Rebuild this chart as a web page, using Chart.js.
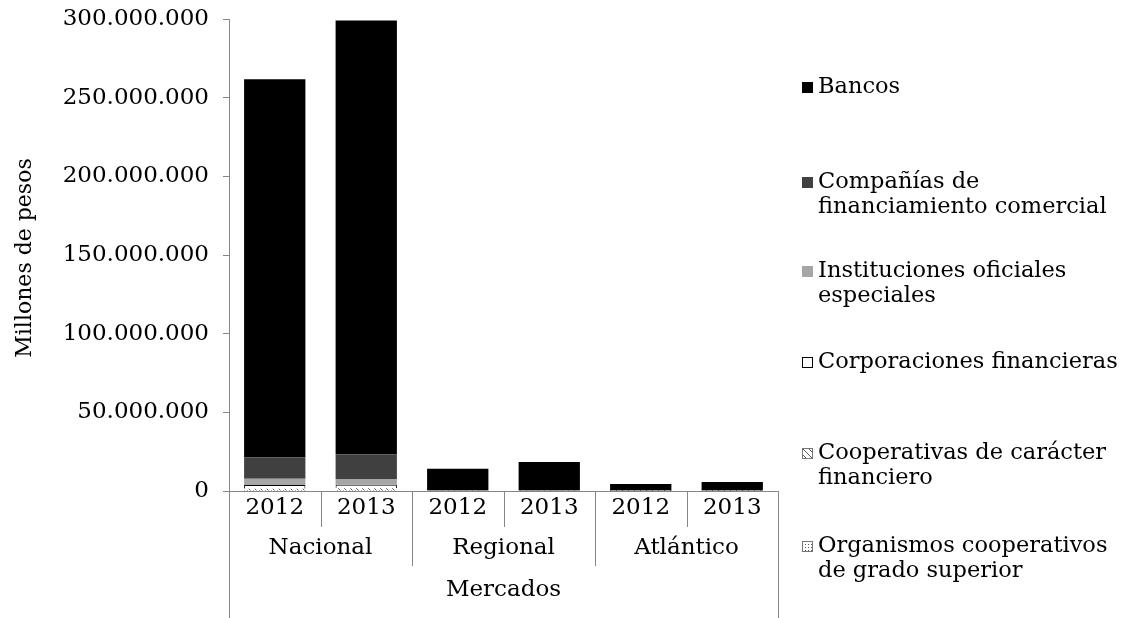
<!DOCTYPE html>
<html>
<head>
<meta charset="utf-8">
<script src="https://cdn.jsdelivr.net/npm/chart.js@4.4.1/dist/chart.umd.min.js"></script>
<style>
  html, body { margin: 0; padding: 0; background: #fff; }
  #wrap { width: 1125px; height: 618px; }
</style>
</head>
<body>
<div id="wrap"><canvas id="chart" width="1125" height="618"></canvas></div>
<script>
// categories
const years = ['2012', '2013', '2012', '2013', '2012', '2013'];
const markets = ['Nacional', 'Regional', 'Atlántico'];
const yTicks = [0, 50000000, 100000000, 150000000, 200000000, 250000000, 300000000];

// series, bottom of the stack first (legend shows them reversed)
const organismos     = [600000, 700000, 0, 0, 0, 0];
const cooperativas   = [900000, 1000000, 100000, 120000, 50000, 60000];
const corporaciones  = [2300000, 2200000, 0, 0, 0, 0];
const instituciones  = [4000000, 3800000, 0, 0, 0, 0];
const companias      = [13600000, 15700000, 300000, 350000, 100000, 120000];
const bancos         = [240300000, 275600000, 13800000, 18000000, 4350000, 5500000];

const seriesNames = [
  ['Organismos cooperativos', 'de grado superior'],
  ['Cooperativas de carácter', 'financiero'],
  ['Corporaciones financieras'],
  ['Instituciones oficiales', 'especiales'],
  ['Compañías de', 'financiamiento comercial'],
  ['Bancos']
];

const FONT = '"DejaVu Serif", "Liberation Serif", serif';
const AXIS = '#868686';

function makePattern(kind) {
  const c = document.createElement('canvas');
  c.width = 6; c.height = 6;
  const g = c.getContext('2d');
  g.fillStyle = '#fff';
  g.fillRect(0, 0, 6, 6);
  g.fillStyle = '#555';
  if (kind === 'hatch') {
    g.strokeStyle = '#555';
    g.lineWidth = 1;
    g.beginPath();
    g.moveTo(0, 0); g.lineTo(6, 6);
    g.stroke();
  } else {
    g.fillRect(1, 1, 1, 1);
    g.fillRect(4, 4, 1, 1);
    g.fillRect(1, 4, 1, 1);
    g.fillRect(4, 1, 1, 1);
  }
  return g.createPattern(c, 'repeat');
}

const fills = [makePattern('dots'), makePattern('hatch'), '#ffffff', '#a6a6a6', '#404040', '#000000'];
const borders = ['#888', '#666', '#000', '#a6a6a6', '#404040', '#000'];
const values = [organismos, cooperativas, corporaciones, instituciones, companias, bancos];

const datasets = values.map((v, i) => ({
  label: seriesNames[i].join(' '),
  data: v,
  backgroundColor: fills[i],
  borderColor: borders[i],
  borderWidth: i === 2 ? 1 : 0,
  barPercentage: 0.67,
  categoryPercentage: 1.0
}));

// legend positions (first line centre)
const legendY = [546, 453, 362, 271, 182, 87];

const extras = {
  id: 'extras',
  afterDraw(chart) {
    const ctx = chart.ctx;
    const x = chart.scales.x;
    const area = chart.chartArea;
    const bottom = area.bottom;
    const step = (area.right - area.left) / years.length;
    ctx.save();
    ctx.fillStyle = '#000';
    ctx.font = '23px ' + FONT;
    ctx.textAlign = 'center';
    ctx.textBaseline = 'middle';
    years.forEach((y, i) => {
      ctx.fillText(y, x.getPixelForValue(i), 508);
    });
    markets.forEach((m, i) => {
      ctx.fillText(m, area.left + step * (2 * i + 1), 548);
    });
    ctx.fillText('Mercados', (area.left + area.right) / 2, 590);

    ctx.strokeStyle = AXIS;
    ctx.lineWidth = 1;
    for (let i = 0; i <= years.length; i++) {
      const px = Math.round(area.left + step * i) + 0.5;
      let end = 527;
      if (i % 2 === 0) end = 566;
      if (i === 0 || i === years.length) end = 618;
      ctx.beginPath();
      ctx.moveTo(px, bottom);
      ctx.lineTo(px, end);
      ctx.stroke();
    }

    // y title
    ctx.save();
    ctx.translate(25, 258);
    ctx.rotate(-Math.PI / 2);
    ctx.font = '22px ' + FONT;
    ctx.fillText('Millones de pesos', 0, 0);
    ctx.restore();

    // legend
    ctx.textAlign = 'left';
    ctx.font = '22.5px ' + FONT;
    chart.data.datasets.forEach((ds, i) => {
      const yy = legendY[i];
      ctx.fillStyle = ds.backgroundColor;
      ctx.fillRect(802, yy - 5, 11, 11);
      ctx.strokeStyle = i === 2 ? '#000' : (i < 2 ? '#777' : ds.backgroundColor);
      ctx.strokeRect(802.5, yy - 4.5, 10, 10);
      ctx.fillStyle = '#000';
      seriesNames[i].forEach((line, k) => {
        ctx.fillText(line, 818, yy + k * 25);
      });
    });
    ctx.restore();
  }
};

new Chart(document.getElementById('chart'), {
  type: 'bar',
  data: { labels: years.map((y, i) => markets[Math.floor(i / 2)] + ' ' + y), datasets: datasets },
  options: {
    responsive: false,
    animation: false,
    layout: { padding: { top: 19, right: 347, bottom: 127, left: 0 } },
    plugins: { legend: { display: false }, tooltip: { enabled: false } },
    scales: {
      x: {
        stacked: true,
        grid: { display: false },
        border: { color: AXIS, width: 1 },
        ticks: { display: false },
        afterFit(scale) { scale.height = 0; scale.paddingLeft = 0; scale.paddingRight = 0; }
      },
      y: {
        stacked: true,
        min: 0,
        max: 300000000,
        afterFit(scale) { scale.width = 229; scale.paddingTop = 0; scale.paddingBottom = 0; },
        afterBuildTicks(scale) { scale.ticks = yTicks.map(v => ({ value: v })); },
        grid: { drawOnChartArea: false, drawTicks: true, tickLength: 6, color: AXIS },
        border: { color: AXIS, width: 1 },
        ticks: {
          color: '#000',
          padding: 14,
          font: { family: FONT, size: 23 },
          callback: v => String(v).replace(/\B(?=(\d{3})+(?!\d))/g, '.')
        }
      }
    }
  },
  plugins: [extras]
});
</script>
</body>
</html>
